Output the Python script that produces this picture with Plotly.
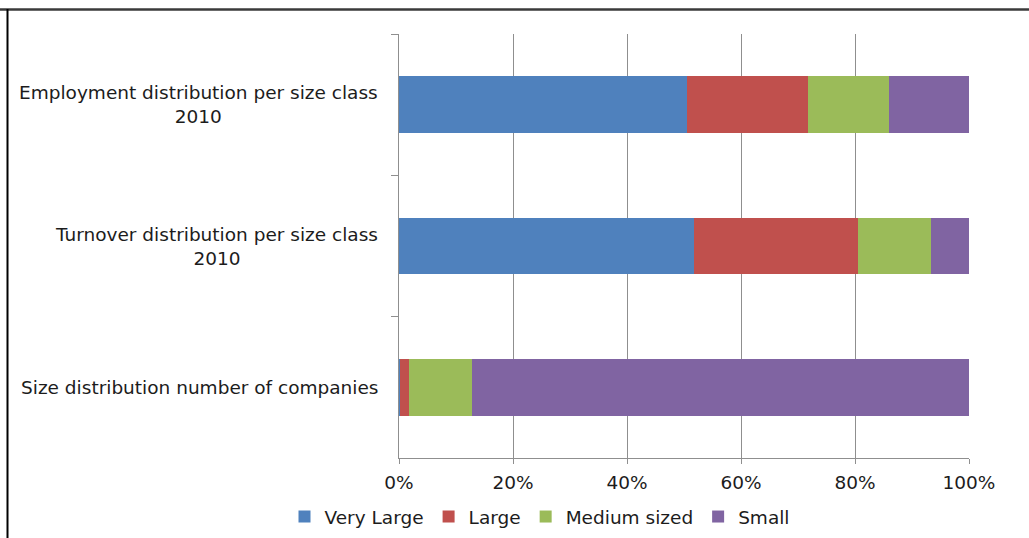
import plotly.graph_objects as go

# Share of each size class (percent) per indicator, top to bottom
categories = [
    "Employment distribution per size class<br>2010",
    "Turnover distribution per size class<br>2010",
    "Size distribution number of companies",
]
series_names = ["Very Large", "Large", "Medium sized", "Small"]
very_large = [50.6, 51.7, 0.1]
large = [21.1, 28.9, 1.7]
medium_sized = [14.2, 12.8, 11.0]
small = [14.1, 6.6, 87.2]
tick_values = [0, 20, 40, 60, 80, 100]
tick_labels = ["0%", "20%", "40%", "60%", "80%", "100%"]

colors = ["#4F81BD", "#C0504D", "#9BBB59", "#8064A2"]
FONT = "DejaVu Sans, Arial, sans-serif"
TEXT = "#1c1c1c"

fig = go.Figure()
for name, vals, col in zip(series_names, [very_large, large, medium_sized, small], colors):
    fig.add_trace(go.Bar(
        y=categories, x=vals, name=name, orientation="h",
        marker=dict(color=col, line=dict(width=0)),
    ))

# Category labels: centered multi-line text, right edge next to the axis
for cat in categories:
    fig.add_annotation(
        x=0, xref="paper", y=cat, yref="y", text=cat,
        xanchor="right", yanchor="middle", xshift=-19, align="center",
        showarrow=False, font=dict(family=FONT, size=18.5, color=TEXT),
    )

W, H = 1029, 538
ML, MR, MT, MB = 399, 60, 34, 80
pw, ph = W - ML - MR, H - MT - MB

def px_x(x):
    return (x - ML) / pw

def px_y(y):
    return (H - MB - y) / ph

# Outer frame: top and left edges
fig.add_shape(type="line", xref="paper", yref="paper",
              x0=px_x(0), x1=px_x(W), y0=px_y(9.5), y1=px_y(9.5),
              line=dict(color="#3a3a3a", width=2.5))
fig.add_shape(type="line", xref="paper", yref="paper",
              x0=px_x(7.5), x1=px_x(7.5), y0=px_y(9), y1=px_y(H),
              line=dict(color="#000000", width=2))

fig.update_layout(
    width=W, height=H,
    margin=dict(l=ML, r=MR, t=MT, b=MB, autoexpand=False),
    paper_bgcolor="white", plot_bgcolor="white",
    barmode="stack", barnorm="percent", bargap=0.6,
    font=dict(family=FONT, size=18.5, color=TEXT),
    showlegend=True,
    legend=dict(
        orientation="h", xref="container", yref="container",
        x=540 / W, xanchor="center",
        y=1 - 517 / H, yanchor="middle",
        font=dict(family=FONT, size=18.5, color=TEXT),
        traceorder="normal", itemwidth=30,
    ),
    xaxis=dict(
        range=[0, 100], tickvals=tick_values, ticktext=tick_labels,
        showgrid=True, gridcolor="#8f8f8f", gridwidth=1,
        showline=True, linecolor="#8f8f8f", linewidth=1,
        ticks="outside", ticklen=5, tickcolor="#8f8f8f",
        zeroline=False, fixedrange=True, ticklabelstandoff=3,
        tickfont=dict(family=FONT, size=18.5, color=TEXT),
    ),
    yaxis=dict(
        autorange="reversed", showticklabels=False,
        showline=True, linecolor="#8f8f8f", linewidth=1,
        ticks="outside", ticklen=7, tickcolor="#8f8f8f",
        tickson="boundaries", showgrid=False, zeroline=False,
        fixedrange=True,
    ),
)

fig.write_html("out.html")
